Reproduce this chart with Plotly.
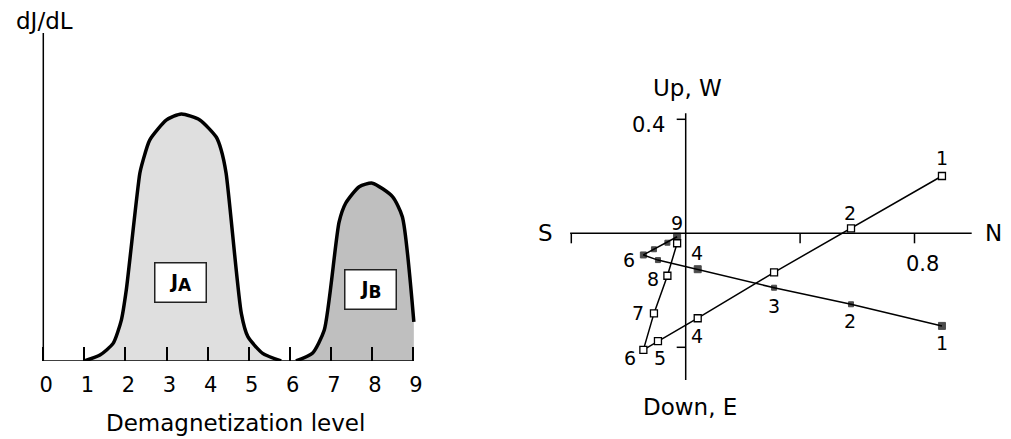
import plotly.graph_objects as go

W, H = 1011, 439
FONT = "DejaVu Sans"

# ---- Left panel: dJ/dL unblocking spectra of two components ----
level_a = [1.0, 1.38, 1.70, 1.90, 2.02, 2.35, 2.43, 2.59, 3.0, 3.36, 3.81, 4.21, 4.33, 4.45, 4.82, 4.98, 5.34, 5.79]
dj_a = [0.0, 0.024, 0.071, 0.165, 0.286, 0.757, 0.81, 0.891, 0.972, 0.996, 0.972, 0.903, 0.851, 0.757, 0.192, 0.098, 0.031, 0.0]

level_b = [6.15, 6.55, 6.84, 7.20, 7.36, 7.69, 8.01, 8.50, 8.74, 9.02]
dj_b = [0.0, 0.031, 0.125, 0.56, 0.636, 0.703, 0.717, 0.663, 0.582, 0.158]

level_ticks = [0, 1, 2, 3, 4, 5, 6, 7, 8, 9]

# ---- Right panel: orthogonal vector projection (Zijderveld) ----
steps = [1, 2, 3, 4, 5, 6, 7, 8, 9]
north = [0.896, 0.578, 0.309, 0.042, -0.097, -0.148, -0.111, -0.064, -0.030]
up = [0.201, 0.0175, -0.137, -0.298, -0.378, -0.409, -0.281, -0.149, -0.035]
west = [-0.325, -0.249, -0.191, -0.126, -0.094, -0.076, -0.056, -0.033, -0.012]

# ---- pixel layout helpers ----
def fx(px):
    return px / W

def fy(py):
    return 1 - py / H

# left panel: x=0 at 43.3 px, 41.08 px per level; y=0 at 361 px, 248 px per unit
L_X0, L_SX, L_Y0, L_SY = 43.3, 41.08, 361.0, 248.0
L_DOM = (30, 440, 10, 361)
# right panel: origin at (685.7, 233.3) px, 286 px per unit horizontally, 285 vertically
R_X0, R_SX, R_Y0, R_SY = 685.7, 286.0, 233.3, 285.0
R_DOM = (530, 1005, 60, 400)

fig = go.Figure()

fig.add_trace(go.Scatter(
    x=level_a, y=dj_a, mode="lines", fill="tozeroy", fillcolor="#dfdfdf",
    line=dict(color="black", width=3.5, shape="spline", smoothing=0.6),
    xaxis="x", yaxis="y", showlegend=False, hoverinfo="skip"))
fig.add_trace(go.Scatter(
    x=level_b, y=dj_b, mode="lines", fill="tozeroy", fillcolor="#bfbfbf",
    line=dict(color="black", width=3.5, shape="spline", smoothing=0.6),
    xaxis="x", yaxis="y", showlegend=False, hoverinfo="skip"))

filled_sizes = [7, 5, 5, 7, 5, 6, 5, 5, 7]
fig.add_trace(go.Scatter(
    x=north, y=west, mode="lines+markers",
    line=dict(color="black", width=1.5),
    marker=dict(symbol="square", size=filled_sizes, color="black",
                line=dict(color="black", width=1)),
    xaxis="x2", yaxis="y2", showlegend=False, hoverinfo="skip"))
fig.add_trace(go.Scatter(
    x=north, y=up, mode="lines+markers",
    line=dict(color="black", width=1.5),
    marker=dict(symbol="square", size=7, color="white", line=dict(color="black", width=1.3)),
    xaxis="x2", yaxis="y2", showlegend=False, hoverinfo="skip"))

shapes = []
# left axes
shapes.append(dict(type="line", xref="x", yref="y", x0=0, x1=9, y0=0, y1=0,
                   line=dict(color="black", width=1.5)))
shapes.append(dict(type="line", xref="x", yref="y", x0=0, x1=0, y0=0, y1=(L_Y0 - 33) / L_SY,
                   line=dict(color="black", width=1.5)))
# right axes through the origin
shapes.append(dict(type="line", xref="x2", yref="y2", x0=-0.404, x1=1.0, y0=0, y1=0,
                   line=dict(color="black", width=1.5)))
shapes.append(dict(type="line", xref="x2", yref="y2", x0=0, x1=0, y0=-0.515, y1=0.421,
                   line=dict(color="black", width=1.5)))
for t in [-0.4, 0.4, 0.8]:
    shapes.append(dict(type="line", xref="x2", yref="y2", ysizemode="pixel", yanchor=0,
                       x0=t, x1=t, y0=0, y1=-10, line=dict(color="black", width=1.5)))
for t in [0.4, -0.4]:
    shapes.append(dict(type="line", xref="x2", yref="y2", xsizemode="pixel", xanchor=0,
                       y0=t, y1=t, x0=0, x1=-9, line=dict(color="black", width=1.5)))

ann = []
def text(x, y, s, size, xref="paper", yref="paper", xanchor="center", yanchor="middle",
         xshift=0, yshift=0, **kw):
    ann.append(dict(x=x, y=y, xref=xref, yref=yref, text=s, showarrow=False,
                    xanchor=xanchor, yanchor=yanchor, xshift=xshift, yshift=yshift,
                    font=dict(family=FONT, size=size, color="black"), **kw))

text(fx(44), fy(21), "dJ/dL", 23)
text(fx(235), fy(423), "Demagnetization level", 23)

box = dict(bgcolor="white", bordercolor="#222222", borderwidth=1.5, borderpad=0,
           width=50, height=38)
sub = "<span style='font-size:17px'>{}</span>"
text(3.35, 0.315, "<b>J<sub>" + sub.format("A") + "</sub></b>", 19, xref="x", yref="y", **box)
text(7.96, 0.289, "<b>J<sub>" + sub.format("B") + "</sub></b>", 19, xref="x", yref="y", **box)

# right panel axis names
text(fx(545), fy(233), "S", 23)
text(fx(993), fy(233), "N", 23)
text(fx(687), fy(88), "Up, W", 23)
text(fx(690), fy(407), "Down, E", 23)
text(0.8, 0, "0.8", 21, xref="x2", yref="y2", xshift=8, yshift=-31)
text(0, 0.4, "0.4", 21, xref="x2", yref="y2", xanchor="right", xshift=-19, yshift=-6)

# step numbers beside the points (index, dx, dy in px)
up_labels = {1: (0, 18), 2: (-1, 15), 4: (-1, -18), 5: (2, -17), 6: (-13, -8),
             7: (-16, 0), 8: (-14, -3), 9: (0, 20)}
west_labels = {1: (0, -17), 2: (-1, -17), 3: (0, -18), 4: (-1, 16), 6: (-14, -5)}
for s, (dx, dy) in up_labels.items():
    i = steps.index(s)
    text(north[i], up[i], str(s), 19, xref="x2", yref="y2", xshift=dx, yshift=dy)
for s, (dx, dy) in west_labels.items():
    i = steps.index(s)
    text(north[i], west[i], str(s), 19, xref="x2", yref="y2", xshift=dx, yshift=dy)

lx0, lx1, ly0, ly1 = L_DOM
rx0, rx1, ry0, ry1 = R_DOM
fig.update_layout(
    width=W, height=H, margin=dict(l=0, r=0, t=0, b=0),
    paper_bgcolor="white", plot_bgcolor="rgba(0,0,0,0)",
    font=dict(family=FONT, color="black"),
    xaxis=dict(domain=[fx(lx0), fx(lx1)],
               range=[(lx0 - L_X0) / L_SX, (lx1 - L_X0) / L_SX],
               showgrid=False, zeroline=False, showline=False,
               tickvals=level_ticks, ticktext=[str(v) for v in level_ticks],
               ticks="inside", ticklen=14, tickwidth=1.5, tickcolor="black",
               tickfont=dict(family=FONT, size=21), ticklabelstandoff=9,
               ticklabelshift=3, anchor="y", fixedrange=True),
    yaxis=dict(domain=[fy(ly1), fy(ly0)],
               range=[0, (ly1 - ly0) / L_SY], visible=False, anchor="x"),
    xaxis2=dict(domain=[fx(rx0), fx(rx1)],
                range=[(rx0 - R_X0) / R_SX, (rx1 - R_X0) / R_SX],
                visible=False, anchor="y2"),
    yaxis2=dict(domain=[fy(ry1), fy(ry0)],
                range=[(R_Y0 - ry1) / R_SY, (R_Y0 - ry0) / R_SY],
                visible=False, anchor="x2"),
    shapes=shapes, annotations=ann,
)

fig.write_html("out.html")
